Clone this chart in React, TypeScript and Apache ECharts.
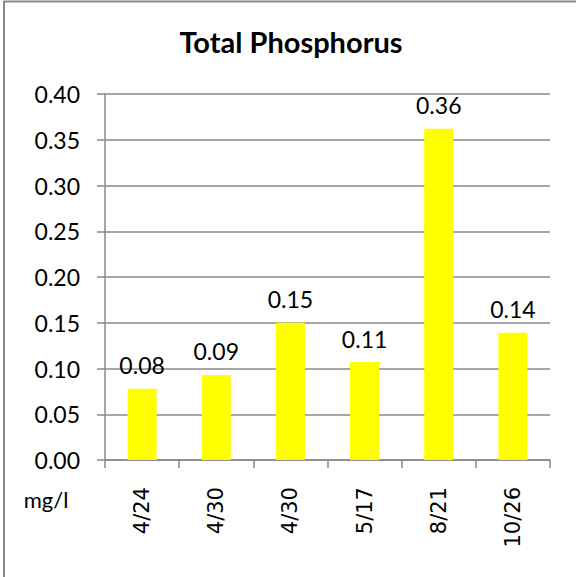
import React, { useEffect, useRef } from "react";
import * as echarts from "echarts";

const categories = ["4/24", "4/30", "4/30", "5/17", "8/21", "10/26"];
const values = [0.078, 0.093, 0.15, 0.107, 0.362, 0.139];
const yTicks = { min: 0, max: 0.4, interval: 0.05 };
const titleText = "Total Phosphorus";
const unitText = "mg/l";

export default function App() {
  const ref = useRef<HTMLDivElement>(null);
  useEffect(() => {
    document.body.style.margin = "0";
    if (!ref.current) return;
    const chart = echarts.init(ref.current, null, { renderer: "svg" });
    const gray = "#898989";
    chart.setOption({
      animation: false,
      backgroundColor: "#ffffff",
      graphic: [
        {
          type: "rect",
          shape: { x: 4, y: 1.5, width: 700, height: 700 },
          style: { fill: "none", stroke: "#8a8a8a", lineWidth: 2 },
          silent: true,
        },
        {
          type: "text",
          x: 291,
          y: 41.5,
          style: {
            text: titleText,
            fontFamily: "Lato",
            fontWeight: "bold",
            fontSize: 29,
            fill: "#000",
            textAlign: "center",
            textVerticalAlign: "middle",
          },
        },
        {
          type: "text",
          x: 46,
          y: 499,
          style: {
            text: unitText,
            fontFamily: "Lato",
            fontSize: 22,
            fill: "#000",
            textAlign: "center",
            textVerticalAlign: "middle",
          },
        },
      ],
      grid: { left: 105, right: 26, top: 94, bottom: 117, containLabel: false },
      xAxis: {
        type: "category",
        data: categories,
        axisLine: { show: true, lineStyle: { color: gray, width: 1.5 } },
        axisTick: { show: true, length: 8, alignWithLabel: false, lineStyle: { color: gray, width: 1.5 } },
        axisLabel: {
          interval: 0,
          rotate: 90,
          margin: 27,
          fontFamily: "DejaVu Sans",
          fontSize: 21,
          color: "#000",
        },
        splitLine: { show: false },
      },
      yAxis: {
        type: "value",
        min: yTicks.min,
        max: yTicks.max,
        interval: yTicks.interval,
        axisLine: { show: true, lineStyle: { color: gray, width: 1.5 } },
        axisTick: { show: true, length: 8, lineStyle: { color: gray, width: 1.5 } },
        axisLabel: {
          margin: 25,
          fontFamily: "Lato",
          fontSize: 23,
          color: "#000",
          formatter: (v: number) => v.toFixed(2),
        },
        splitLine: { show: true, lineStyle: { color: gray, width: 1.5 } },
      },
      series: [
        {
          type: "bar",
          data: values,
          barWidth: 29,
          itemStyle: { color: "#ffff00" },
          label: {
            show: true,
            position: "top",
            distance: 12,
            fontFamily: "Lato",
            fontSize: 23,
            color: "#000",
            formatter: (p: any) => Number(p.value).toFixed(2),
          },
        },
      ],
    });
    return () => chart.dispose();
  }, []);
  return <div ref={ref} style={{ width: 576, height: 577 }} />;
}
